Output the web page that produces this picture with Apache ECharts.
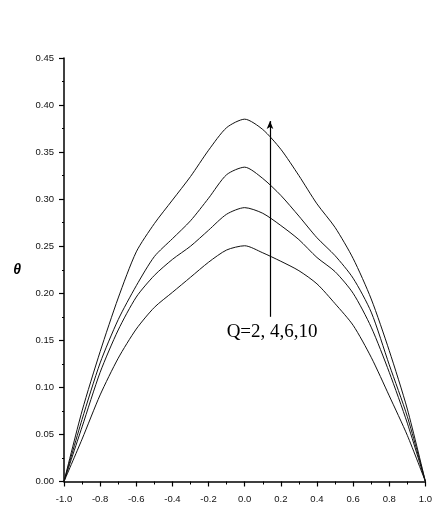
<!DOCTYPE html>
<html>
<head>
<meta charset="utf-8">
<script src="https://cdn.jsdelivr.net/npm/echarts@6/dist/echarts.min.js"></script>
<style>html,body{margin:0;padding:0;background:#fff}#c{width:435px;height:508px}</style>
</head>
<body>
<div id="c"></div>
<script>
var xValues = [-1.0,-0.9,-0.8,-0.7,-0.6,-0.5,-0.4,-0.3,-0.2,-0.1,0.0,0.1,0.2,0.3,0.4,0.5,0.6,0.7,0.8,0.9,1.0];
var q10 = [0,0.075,0.138,0.195,0.244,0.274,0.299,0.324,0.352,0.376,0.385,0.374,0.353,0.325,0.295,0.270,0.237,0.194,0.139,0.077,0];
var q6  = [0,0.066,0.126,0.172,0.208,0.239,0.258,0.277,0.301,0.326,0.334,0.322,0.304,0.282,0.259,0.240,0.216,0.180,0.124,0.069,0];
var q4  = [0,0.058,0.116,0.161,0.196,0.219,0.236,0.250,0.267,0.284,0.291,0.285,0.272,0.257,0.238,0.223,0.200,0.164,0.116,0.062,0];
var q2  = [0,0.045,0.092,0.131,0.162,0.185,0.201,0.217,0.233,0.246,0.2505,0.243,0.234,0.224,0.210,0.189,0.166,0.132,0.091,0.049,0];
var seriesNames = ['Q=2','Q=4','Q=6','Q=10'];
var xTicks = {min:-1, max:1, interval:0.2};
var yTicks = {min:0, max:0.45, interval:0.05};
var annotationText = 'Q=2, 4,6,10';
var arrowX = 0.14, arrowY0 = 0.175, arrowY1 = 0.383;

function pairs(arr){ return xValues.map(function(x,i){ return [x, arr[i]]; }); }

var chart = echarts.init(document.getElementById('c'));
var lineStyle = {color:'#111', width:1};
var series = [q2,q4,q6,q10].map(function(arr,i){
  return {name:seriesNames[i], type:'line', data:pairs(arr), symbol:'none', smooth:0.25,
    lineStyle:lineStyle, silent:true};
});
series[0].markLine = {
  silent:true, symbol:['none','arrow'], symbolSize:[5,8],
  lineStyle:{color:'#000', width:1.2, type:'solid'}, label:{show:false},
  data:[[{coord:[arrowX, arrowY0]},{coord:[arrowX, arrowY1]}]]
};
var axisFont = {fontFamily:'Liberation Sans', fontSize:9.5, color:'#111'};
chart.setOption({
  animation:false,
  grid:{left:64, right:7, top:58, bottom:26.5},
  xAxis:{type:'value', min:xTicks.min, max:xTicks.max, interval:xTicks.interval,
    axisLine:{show:true, onZero:false, lineStyle:{color:'#000', width:1.5}},
    axisTick:{show:true, inside:false, length:5, lineStyle:{color:'#000', width:1.2}},
    minorTick:{show:true, splitNumber:2, length:3, lineStyle:{color:'#000', width:1}},
    splitLine:{show:false},
    axisLabel:Object.assign({margin:13, formatter:function(v){return v.toFixed(1);}}, axisFont)
  },
  yAxis:{type:'value', min:yTicks.min, max:yTicks.max, interval:yTicks.interval,
    name:'θ', nameLocation:'middle', nameRotate:0, nameGap:43,
    nameTextStyle:{fontFamily:'Liberation Sans', fontSize:14, fontWeight:'bold', fontStyle:'italic', color:'#000'},
    axisLine:{show:true, onZero:false, lineStyle:{color:'#000', width:1.5}},
    axisTick:{show:true, inside:false, length:5, lineStyle:{color:'#000', width:1.2}},
    minorTick:{show:true, splitNumber:2, length:2, lineStyle:{color:'#000', width:1}},
    splitLine:{show:false},
    axisLabel:Object.assign({margin:10, formatter:function(v){return v.toFixed(2);}}, axisFont)
  },
  series:series
});
var p = chart.convertToPixel({gridIndex:0}, [-0.1, 0.157]);
chart.setOption({graphic:[{type:'text', left:p[0], top:p[1]-11,
  style:{text:annotationText, font:'19px "Liberation Serif"', fill:'#000'}}]});
</script>
</body>
</html>
